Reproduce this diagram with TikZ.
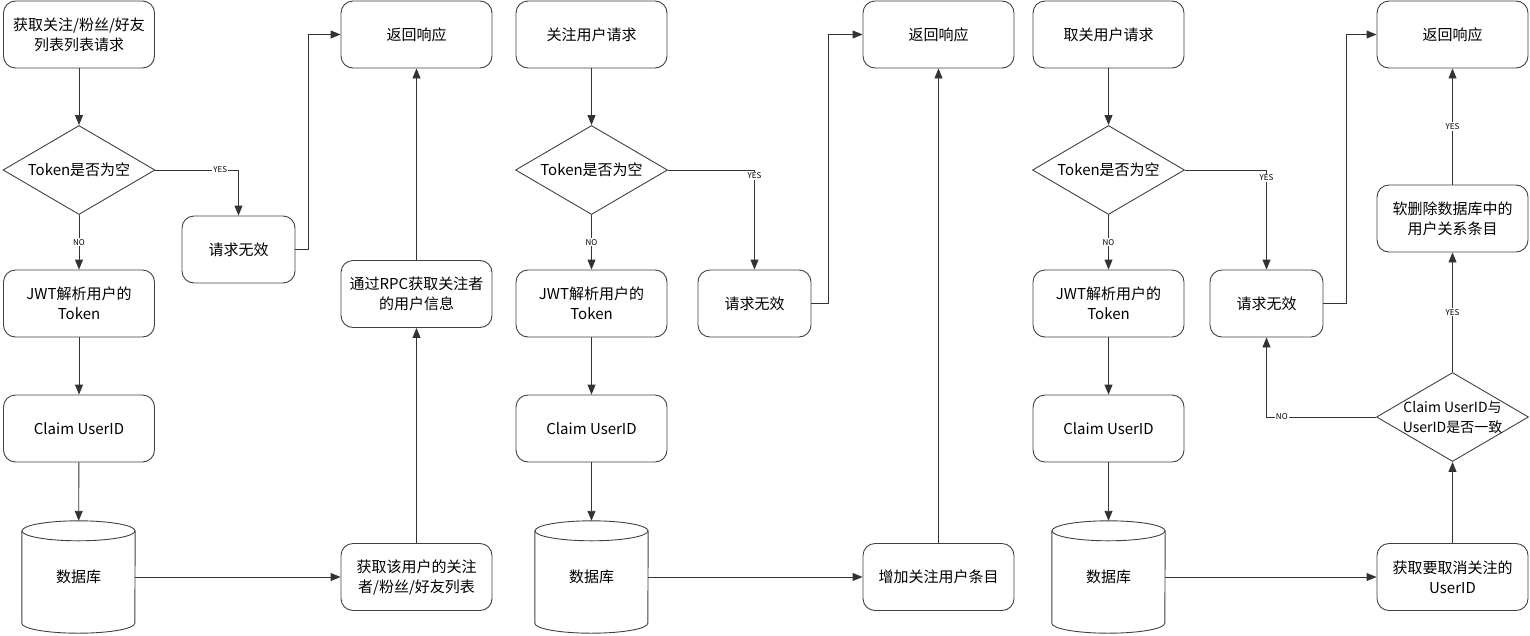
\documentclass[tikz,border=0pt]{standalone}
\usepackage{fontspec}
\setmainfont{Noto Sans CJK SC}
\usepackage{tikz}
\usetikzlibrary{shapes.geometric,arrows.meta,positioning,calc}

% cylinder drawn round a db_node
\newcommand{\dbshape}[1]{%
    \draw[db_line] ([yshift=-10pt]#1.north) ellipse [x radius=56.5pt, y radius=10pt];
    \draw[db_line] ([yshift=-10pt]#1.north west) -- ([yshift=10pt]#1.south west)
        arc [start angle=180, end angle=360, x radius=56.5pt, y radius=10pt]
        -- ([yshift=-10pt]#1.north east);
}

\begin{document}
\begin{tikzpicture}[
        x=1pt, y=-1pt,
        every node/.style={
            font=\fontsize{15}{20}\selectfont,
            text=black
        },
        round_box/.style={
            rectangle,
            rounded corners=12pt,
            draw=black!75,
            line width=0.9pt,
            minimum width=151pt,
            minimum height=67pt,
            inner sep=2pt,
            align=center
        },
        small_box/.style={
            round_box,
            minimum width=113pt
        },
        decision_node/.style={
            diamond,
            draw=black!75,
            line width=0.9pt,
            aspect=1.7,
            minimum width=152pt,
            minimum height=89pt,
            inner sep=0pt
        },
        db_node/.style={
            rectangle,
            minimum width=113pt,
            minimum height=112pt,
            inner sep=0pt
        },
        db_line/.style={
            draw=black!75,
            line width=0.9pt
        },
        flow_edge/.style={
            draw=black!80,
            line width=0.9pt,
            -{Triangle[length=10pt, width=8pt]}
        },
        edge_label/.style={
            font=\fontsize{8}{8}\selectfont,
            fill=white,
            inner sep=1pt
        }
    ]
        \useasboundingbox (0,0) rectangle (1530,635);

        % Column 1: list request
        \node[round_box]     (req1)   at (79, 34.5)    {获取关注/粉丝/好友\\列表列表请求};
        \node[decision_node] (tok1)   at (79, 170)     {Token是否为空};
        \node[round_box]     (jwt1)   at (79, 303.5)   {JWT解析用户的\\Token};
        \node[round_box]     (claim1) at (79, 428.5)   {Claim UserID};
        \node[db_node]       (db1)    at (78.5, 577)   {数据库};
        \node[small_box]     (bad1)   at (238.5, 249.5) {请求无效};
        \node[round_box]     (resp1)  at (416.5, 34.5)  {返回响应};
        \node[round_box]     (rpc1)   at (416.5, 294)   {通过RPC获取关注者\\的用户信息};
        \node[round_box]     (list1)  at (416.5, 577)   {获取该用户的关注\\者/粉丝/好友列表};
        \dbshape{db1}

        % Column 2: follow request
        \node[round_box]     (req2)   at (591.5, 34.5)  {关注用户请求};
        \node[decision_node] (tok2)   at (591.5, 170)   {Token是否为空};
        \node[round_box]     (jwt2)   at (591.5, 303.5) {JWT解析用户的\\Token};
        \node[round_box]     (claim2) at (591.5, 428.5) {Claim UserID};
        \node[db_node]       (db2)    at (591.5, 577)   {数据库};
        \node[small_box]     (bad2)   at (754.5, 303.5) {请求无效};
        \node[round_box]     (resp2)  at (938.5, 34.5)  {返回响应};
        \node[round_box]     (add2)   at (938.5, 577)   {增加关注用户条目};
        \dbshape{db2}

        % Column 3: unfollow request
        \node[round_box]     (req3)   at (1108.5, 34.5)  {取关用户请求};
        \node[decision_node] (tok3)   at (1108.5, 170)   {Token是否为空};
        \node[round_box]     (jwt3)   at (1108.5, 303.5) {JWT解析用户的\\Token};
        \node[round_box]     (claim3) at (1108.5, 428.5) {Claim UserID};
        \node[db_node]       (db3)    at (1108.5, 577)   {数据库};
        \node[small_box]     (bad3)   at (1266.5, 303.5) {请求无效};
        \node[round_box]     (resp3)  at (1452.5, 34.5)  {返回响应};
        \node[round_box]     (del3)   at (1452.5, 218.5) {软删除数据库中的\\用户关系条目};
        \node[decision_node, label={[align=center, font=\fontsize{14}{20}\selectfont]center:Claim UserID与\\UserID是否一致}]
                             (chk3)   at (1452.5, 417)   {};
        \node[round_box]     (get3)   at (1452.5, 577)   {获取要取消关注的\\UserID};
        \dbshape{db3}

        % Column 1 edges
        \draw[flow_edge] (req1) -- (tok1);
        \draw[flow_edge] (tok1) -- node[edge_label] {NO} (jwt1);
        \draw[flow_edge] (jwt1) -- (claim1);
        \draw[flow_edge] (claim1) -- (db1);
        \draw[flow_edge] (tok1.east) -| node[edge_label, pos=0.39] {YES} (bad1);
        \draw[flow_edge] (bad1.east) -- ++(13,0) |- (resp1);
        \draw[flow_edge] (db1) -- (list1);
        \draw[flow_edge] (list1) -- (rpc1);
        \draw[flow_edge] (rpc1) -- (resp1);

        % Column 2 edges
        \draw[flow_edge] (req2) -- (tok2);
        \draw[flow_edge] (tok2) -- node[edge_label] {NO} (jwt2);
        \draw[flow_edge] (jwt2) -- (claim2);
        \draw[flow_edge] (claim2) -- (db2);
        \draw[flow_edge] (tok2.east) -| node[edge_label, pos=0.53] {YES} (bad2);
        \draw[flow_edge] (bad2.east) -- ++(17,0) |- (resp2);
        \draw[flow_edge] (db2) -- (add2);
        \draw[flow_edge] (add2) -- (resp2);

        % Column 3 edges
        \draw[flow_edge] (req3) -- (tok3);
        \draw[flow_edge] (tok3) -- node[edge_label] {NO} (jwt3);
        \draw[flow_edge] (jwt3) -- (claim3);
        \draw[flow_edge] (claim3) -- (db3);
        \draw[flow_edge] (tok3.east) -| node[edge_label, pos=0.54] {YES} (bad3);
        \draw[flow_edge] (bad3.east) -- ++(23,0) |- (resp3);
        \draw[flow_edge] (db3) -- (get3);
        \draw[flow_edge] (get3) -- (chk3);
        \draw[flow_edge] (chk3) -- node[edge_label] {YES} (del3);
        \draw[flow_edge] (del3) -- node[edge_label] {YES} (resp3);
        \draw[flow_edge] (chk3.west) -| node[edge_label, pos=0.43] {NO} (bad3);
    \end{tikzpicture}
\end{document}
